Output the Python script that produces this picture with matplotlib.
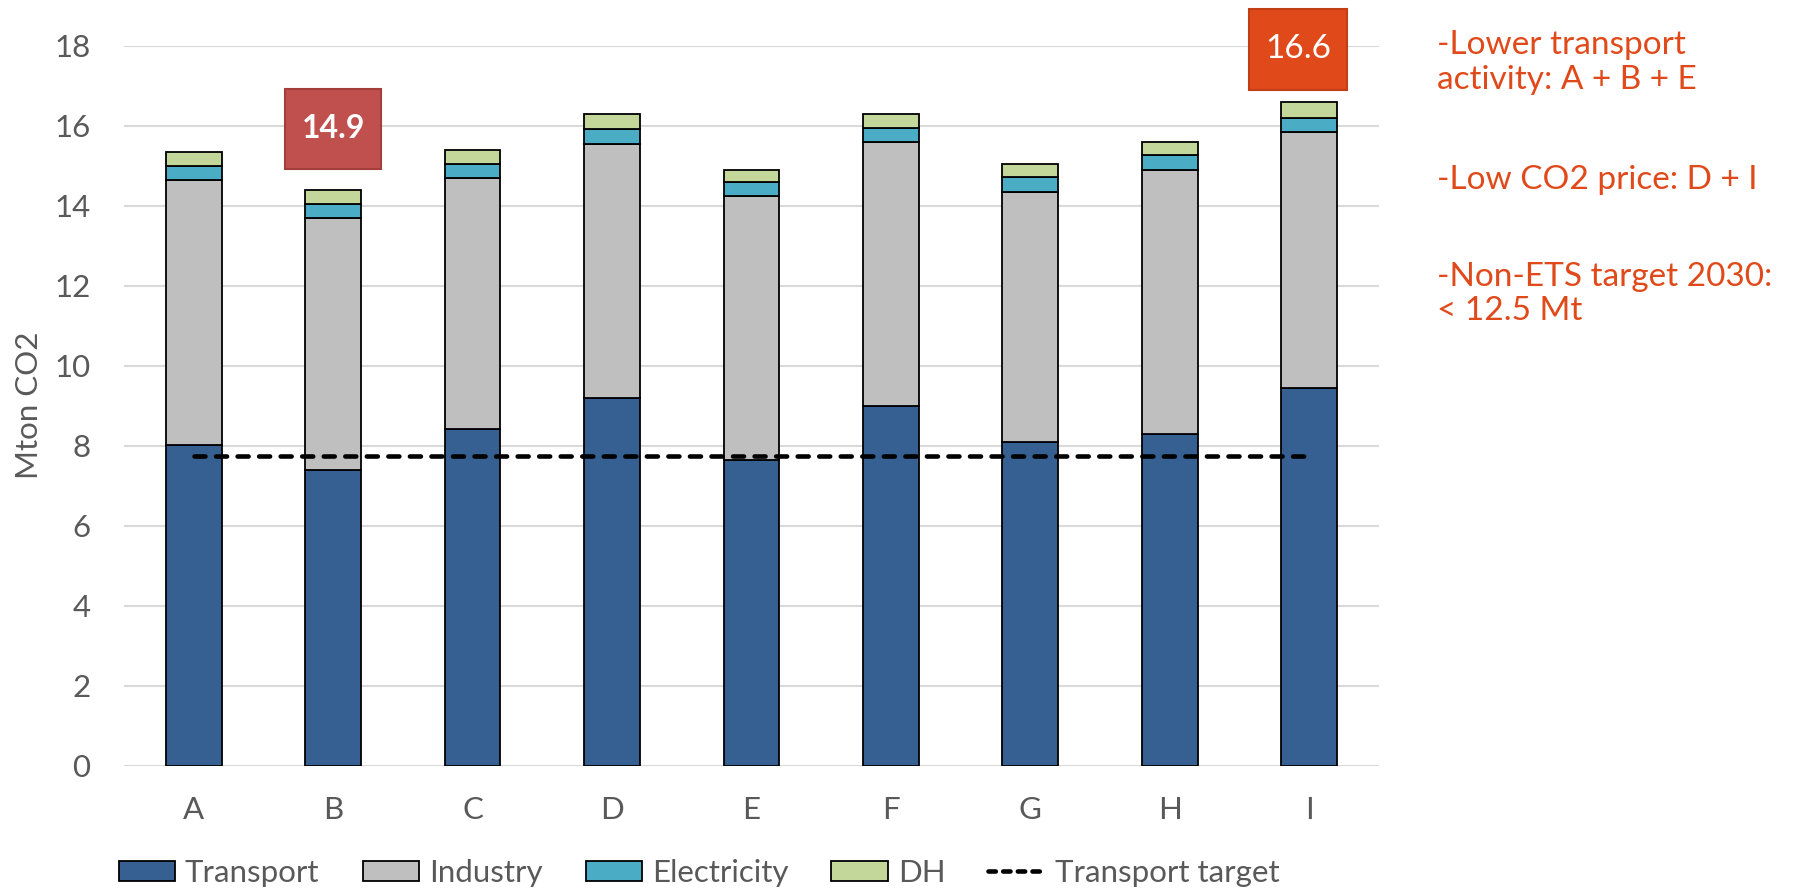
import matplotlib
matplotlib.use("Agg")
import matplotlib.pyplot as plt
from matplotlib.patches import Rectangle, Patch
from matplotlib.lines import Line2D
import numpy as np

plt.rcParams['font.family'] = ['Lato', 'DejaVu Sans']

# Scenario emissions by sector (Mton CO2)
scenarios = ["A", "B", "C", "D", "E", "F", "G", "H", "I"]
transport = [8.02, 7.40, 8.41, 9.18, 7.63, 8.98, 8.08, 8.28, 9.45]
industry = [6.62, 6.28, 6.27, 6.36, 6.60, 6.60, 6.27, 6.61, 6.38]
electricity = [0.36, 0.36, 0.36, 0.37, 0.36, 0.37, 0.36, 0.38, 0.37]
dh = [0.34, 0.34, 0.34, 0.38, 0.31, 0.34, 0.34, 0.33, 0.38]
transport_target = 7.75

sectors = ["Transport", "Industry", "Electricity", "DH"]
colors = ["#376092", "#BFBFBF", "#4BACC6", "#C4D79B"]
notes = ["-Lower transport\nactivity: A + B + E",
         "-Low CO2 price: D + I",
         "-Non-ETS target 2030:\n< 12.5 Mt"]

text_grey = "#595959"
note_color = "#E04A1A"
fs = 22.5

fig = plt.figure(figsize=(17.99, 8.90), dpi=100)
ax = fig.add_axes([0.0689, 0.1397, 0.6976, 0.8090])

x = np.arange(len(scenarios))
series = [transport, industry, electricity, dh]
bottom = np.zeros(len(scenarios))
for vals, col, name in zip(series, colors, sectors):
    ax.bar(x, vals, bottom=bottom, width=0.40, color=col,
           edgecolor="black", linewidth=1.3, label=name, zorder=3)
    bottom += np.array(vals)
totals = bottom

dash = (0, (2.4, 2.3))
ax.plot(x, [transport_target] * len(x), color="black", linewidth=3.3,
        linestyle=dash, dash_capstyle="round", zorder=4)

ax.set_xlim(-0.5, len(scenarios) - 0.5)
ax.set_ylim(0, 18)
ax.set_yticks(np.arange(0, 19, 2))
ax.set_xticks(x)
ax.set_xticklabels(scenarios)
ax.tick_params(axis="both", length=0, labelsize=fs, colors=text_grey)
ax.tick_params(axis="x", pad=22)
ax.tick_params(axis="y", pad=24)
ax.grid(axis="y", color="#D9D9D9", linewidth=1.5, zorder=0)
for s in ax.spines.values():
    s.set_visible(False)
ax.set_ylabel("Mton CO2", fontsize=fs, color=text_grey, labelpad=8)

# Highlight boxes: scenario E total and the highest total
lo, hi = 4, int(np.argmax(totals))
box_lo = Rectangle((1 - 0.345, 14.92), 0.69, 2.0, facecolor="#C0504D",
                   edgecolor="#A33E3B", linewidth=1.5, clip_on=False, zorder=5)
box_hi = Rectangle((7.57, 16.9), 0.70, 2.02, facecolor="#E04A1A",
                   edgecolor="#C23E14", linewidth=1.5, clip_on=False, zorder=5)
ax.add_patch(box_lo)
ax.add_patch(box_hi)
ax.text(1, 15.92, f"{totals[lo]:.1f}", ha="center", va="center", color="white",
        fontsize=23, fontweight="bold", zorder=6, clip_on=False)
ax.text(7.92, 17.91, f"{totals[hi]:.1f}", ha="center", va="center", color="white",
        fontsize=24, zorder=6, clip_on=False)

# Side notes
for note, ytop in zip(notes, [0.966, 0.815, 0.706]):
    fig.text(0.7985, ytop, note, fontsize=24, color=note_color, va="top",
             ha="left", linespacing=1.2)

handles = [Patch(facecolor=c, edgecolor="black", linewidth=1.3) for c in colors]
handles.append(Line2D([0], [0], color="black", linewidth=3.3,
                      linestyle=(0, (1.6, 1.6)), dash_capstyle="round"))
labels = sectors + ["Transport target"]
leg = fig.legend(handles, labels, loc="center left",
                 bbox_to_anchor=(0.066, 0.019), bbox_transform=fig.transFigure,
                 ncol=5, frameon=False, fontsize=fs, borderpad=0,
                 borderaxespad=0, handlelength=1.8, handleheight=0.64,
                 handletextpad=0.32, columnspacing=1.38)
for t in leg.get_texts():
    t.set_color(text_grey)

fig.savefig("out.png", dpi=100)
